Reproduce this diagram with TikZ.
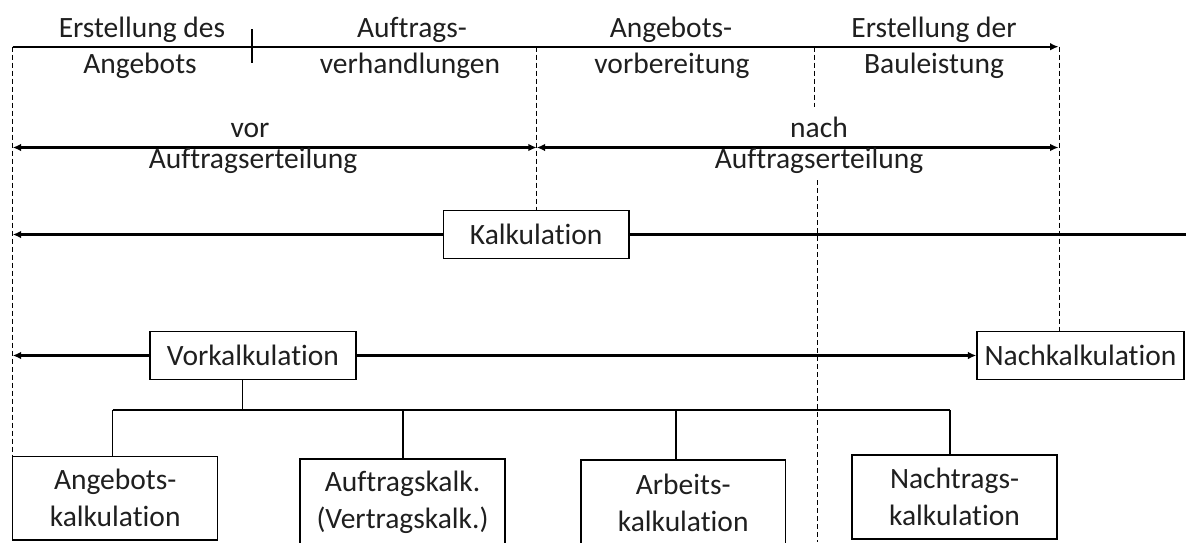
\documentclass[tikz,border=0pt]{standalone}
\usepackage{fontspec}
\setmainfont{Carlito}[Ligatures=NoCommon]
\usetikzlibrary{arrows.meta}
\definecolor{ink}{gray}{0.12}
\begin{document}
\begin{tikzpicture}[x=0.5pt,y=-0.5pt,
  every node/.style={font=\fontsize{14.75pt}{18.5pt}\selectfont, inner sep=0pt, text=ink},
  box/.style={draw, line width=0.7pt, fill=white, align=center},
  axis/.style={line width=1.1pt},
  guide/.style={line width=0.5pt, dash pattern=on 2.5pt off 1.5pt},
  tree/.style={line width=0.6pt},
  tip/.style={-{Latex[length=4.2pt,width=3.8pt]}},
  dtip/.style={{Latex[length=4.2pt,width=3.8pt]}-{Latex[length=4.2pt,width=3.8pt]}},
  lbl/.style={anchor=base}]
\useasboundingbox (0,0) rectangle (1186,542);
\clip (0,0) rectangle (1186,542);

% key coordinates
\coordinate (L0) at (12.7,46.7);
\coordinate (AxEnd) at (1058.5,46.7);
\coordinate (M) at (536.7,46.7);
\coordinate (Q) at (814,46.7);
\coordinate (Qe) at (814,107);
\coordinate (Q2) at (817.5,180);
\coordinate (Q2e) at (817.5,542);
\coordinate (R) at (1059,46.7);
\coordinate (T1) at (252,29);
\coordinate (T2) at (252,63);
\coordinate (V0) at (12.7,147.5);
\coordinate (V1) at (536.7,147.5);
\coordinate (V2) at (1058.5,147.5);
\coordinate (Redge) at (1186,233.5);

% boxes
\node[box, minimum width=92.9pt, minimum height=23.8pt] (kalk) at (536.2,234.5) {Kalkulation};
\node[box, minimum width=103pt, minimum height=23.8pt] (vork) at (253,355.5) {Vorkalkulation};
\node[box, minimum width=103.5pt, minimum height=23.8pt] (nach) at (1080.5,355.5) {Nachkalkulation};
\node[box, minimum width=102.5pt, minimum height=41.7pt] (ang) at (115.2,498.3) {Angebots-\\kalkulation};
\node[box, minimum width=102.5pt, minimum height=43pt] (auf) at (402.5,502) {Auftragskalk.\\(Vertragskalk.)};
\node[box, minimum width=102.3pt, minimum height=43pt] (arb) at (683.2,503) {Arbeits-\\kalkulation};
\node[box, minimum width=102.5pt, minimum height=42pt] (ntr) at (954.5,497) {Nachtrags-\\kalkulation};

% dashed guides
\draw[guide] (L0) -- (L0 |- ang.north);
\draw[guide] (M) -- (M |- kalk.north);
\draw[guide] (R) -- (R |- nach.north);
\draw[guide] (Q) -- (Qe);
\draw[guide] (Q2) -- (Q2e);

% time axis
\draw[axis, tip] (L0) -- (AxEnd);
\draw[axis] (T1) -- (T2);
\node[lbl] (t1a) at (142,37) {Erstellung des};
\node[lbl] (t1b) at (140,73) {Angebots};
\node[lbl] (t2a) at (412,37) {Auftrags-};
\node[lbl] (t2b) at (410,73) {verhandlungen};
\node[lbl] (t3a) at (671,37) {Angebots-};
\node[lbl] (t3b) at (672,73) {vorbereitung};
\node[lbl] (t4a) at (934,37) {Erstellung der};
\node[lbl] (t4b) at (934,73) {Bauleistung};

% before / after award
\draw[axis, dtip] (V0) -- (V1);
\draw[axis, dtip] (V1) -- (V2);
\node[lbl] (vor) at (250,137) {vor};
\node[lbl] (vorb) at (253,168) {Auftragserteilung};
\node[lbl] (nachl) at (819,137) {nach};
\node[lbl] (nachb) at (819,168) {Auftragserteilung};

% Kalkulation line
\draw[axis, tip] (kalk.west) -- (kalk.west -| L0);
\draw[axis] (kalk.east) -- (kalk.east -| Redge);

% Vor-/Nachkalkulation
\draw[axis, tip] (vork.west) -- (vork.west -| L0);
\draw[axis, tip] (vork.east) -- (nach.west);

% tree
\coordinate (J) at (242.3,410);
\coordinate (B1) at (112.7,410);
\coordinate (B2) at (403,410);
\coordinate (B3) at (676,410);
\coordinate (B4) at (950,410);
\draw[tree] (J |- vork.south) -- (J);
\draw[tree] (B1) -- (B4);
\draw[tree] (B1) -- (B1 |- ang.north);
\draw[tree] (B2) -- (B2 |- auf.north);
\draw[tree] (B3) -- (B3 |- arb.north);
\draw[tree] (B4) -- (B4 |- ntr.north);
\end{tikzpicture}
\end{document}
